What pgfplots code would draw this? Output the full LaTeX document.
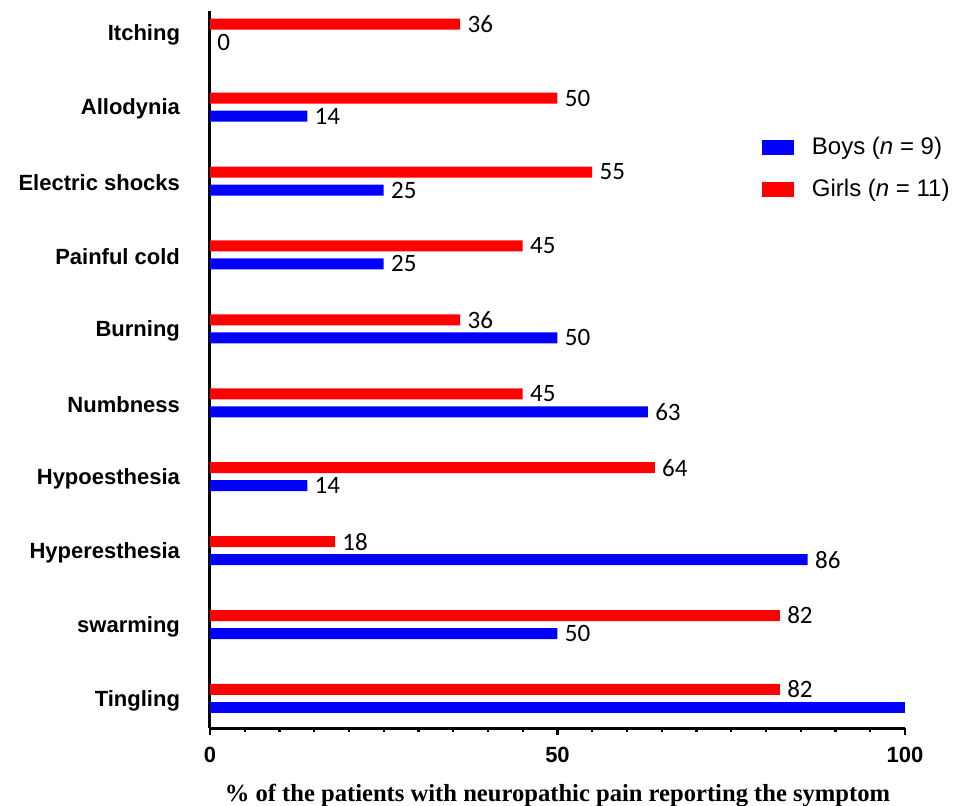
\documentclass[border=0pt]{standalone}
\usepackage{pgfplots}
\pgfplotsset{compat=1.18}
\usepackage{fontspec}
\setmainfont{Liberation Sans}
\newfontfamily\carlito{Carlito}
\newfontfamily\timesf{Liberation Serif}

\definecolor{boys}{RGB}{0,0,255}
\definecolor{girls}{RGB}{255,0,0}

% swatch 16pt wide, plus empty room before the text
\pgfplotsset{swatch/.style={legend image code/.code={%
    \draw[##1, draw=none] (0pt,-3.75pt) rectangle (16pt,3.75pt);
    \path[draw=none, fill=none] (0pt,0pt) -- (23pt,0pt);}}}

\begin{document}
\begin{tikzpicture}
\path[use as bounding box] (-105pt,-38.5pt) rectangle (372pt,364pt);
\begin{axis}[
    at={(0,0)}, anchor=south west,
    scale only axis,
    width=347.5pt, height=358.5pt,
    xmin=0, xmax=100,
    ymin=-0.40, ymax=9.30,
    clip=false,
    /pgf/number format/assume math mode=true,
    axis x line*=bottom,
    axis y line*=left,
    axis line style={line width=1.5pt, black},
    xtick={0,50,100},
    minor x tick num=9,
    tick align=outside,
    major tick length=3.5pt,
    minor tick length=2pt,
    every tick/.style={black, line width=1.2pt},
    xticklabel style={font=\bfseries\fontsize{11}{13}\selectfont, yshift=-2.5pt},
    ytick={0,...,9},
    yticklabels={Tingling,swarming,Hyperesthesia,Hypoesthesia,Numbness,Burning,Painful cold,Electric shocks,Allodynia,Itching},
    y tick style={draw=none},
    yticklabel style={font=\bfseries\fontsize{11}{13}\selectfont, xshift=-8pt, yshift=-1pt},
    xlabel={\timesf\bfseries\% of the patients with neuropathic pain reporting the symptom},
    xlabel style={at={(axis description cs:0.5,0)}, anchor=center, yshift=-34pt,
        font=\fontsize{12.3}{14}\selectfont},
    xbar,
    bar width=5.5pt,
    nodes near coords style={font=\carlito\fontsize{12.5}{14}\selectfont, inner sep=1pt, xshift=2.5pt, anchor=west},
    legend style={at={(axis cs:78.5,7.71)}, anchor=north west, draw=none, fill=none,
        font=\fontsize{12}{14}\selectfont, row sep=7pt},
    legend cell align=left,
]
% Boys (n = 9)
\addplot[fill=boys, draw=none, bar shift=-4.5pt, nodes near coords, swatch]
    coordinates {(50,1)(86,2)(14,3)(63,4)(50,5)(25,6)(25,7)(14,8)(0,9)};
% Girls (n = 11)
\addplot[fill=girls, draw=none, bar shift=4.5pt, nodes near coords, swatch]
    coordinates {(82,0)(82,1)(18,2)(64,3)(45,4)(36,5)(45,6)(55,7)(50,8)(36,9)};
% Boys, Tingling (its label is not shown)
\addplot[fill=boys, draw=none, bar shift=-4.5pt, forget plot]
    coordinates {(100,0)};
\legend{Boys (\textit{n} = 9), Girls (\textit{n} = 11)}
\end{axis}
\end{tikzpicture}
\end{document}
